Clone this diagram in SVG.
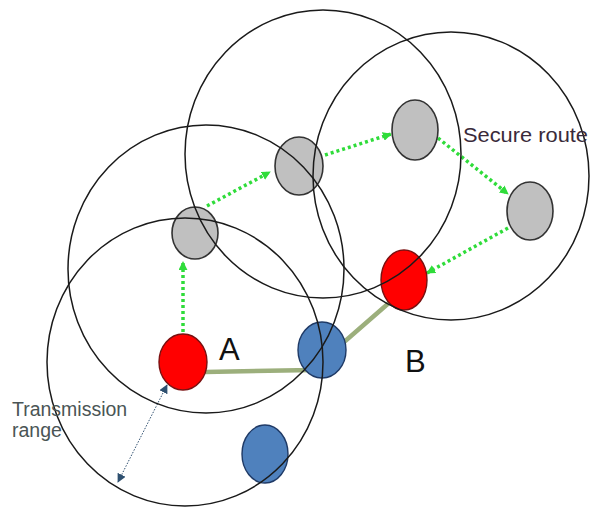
<svg xmlns="http://www.w3.org/2000/svg" width="595" height="509" viewBox="0 0 595 509">
<style>
.range{fill:none;stroke:#1a1a1a;stroke-width:1.5}
.gray{fill:#c0c0c0;stroke:#333;stroke-width:1.6}
.red{fill:#ff0000;stroke:#7a1010;stroke-width:1.4}
.blue{fill:#4f81bd;stroke:#1f3a66;stroke-width:1.4}
.route{fill:none;stroke:#2fdc3a;stroke-width:3.5;stroke-dasharray:3 3}
.lbl{font-family:"Liberation Sans",Arial,sans-serif}
</style>
<defs>
<marker id="ga" viewBox="0 0 10 10" refX="9" refY="5" markerWidth="9" markerHeight="9" markerUnits="userSpaceOnUse" orient="auto">
<path d="M0,0 L10,5 L0,10 z" fill="#2fdc3a"/>
</marker>
<marker id="ta" viewBox="0 0 10 10" refX="9" refY="5" markerWidth="9" markerHeight="9" markerUnits="userSpaceOnUse" orient="auto-start-reverse">
<path d="M0,0 L10,5 L0,10 z" fill="#2f5070"/>
</marker>
</defs>
<rect width="595" height="509" fill="#ffffff"/>
<g id="connectors">
<polyline points="205,372 312,370 390,302" fill="none" stroke="#9caf7c" stroke-width="4.5"/>
<line class="route" x1="183" y1="332" x2="183" y2="262" marker-end="url(#ga)"/>
<line class="route" x1="207" y1="206" x2="270" y2="172" marker-end="url(#ga)"/>
<line class="route" x1="325" y1="155" x2="391" y2="134" marker-end="url(#ga)"/>
<line class="route" x1="438" y1="138" x2="508" y2="194" marker-end="url(#ga)"/>
<line class="route" x1="508" y1="228" x2="427" y2="273" marker-end="url(#ga)"/>
<line x1="167" y1="385" x2="118" y2="482" stroke="#2f5070" stroke-width="1" stroke-dasharray="1.5 1.5" marker-start="url(#ta)" marker-end="url(#ta)"/>
</g>
<g id="nodeA"><ellipse class="red" cx="183" cy="362" rx="24" ry="28"/></g>
<g id="gray1"><ellipse class="gray" cx="195" cy="233" rx="23" ry="26"/></g>
<g id="gray2"><ellipse class="gray" cx="299" cy="166" rx="24" ry="29"/></g>
<g id="gray3"><ellipse class="gray" cx="415" cy="130" rx="23" ry="30"/></g>
<g id="gray4"><ellipse class="gray" cx="530" cy="211" rx="23" ry="29"/></g>
<g id="nodeB"><ellipse class="red" cx="404" cy="280" rx="23" ry="30"/></g>
<g id="blue1"><ellipse class="blue" cx="322" cy="350" rx="24" ry="28"/></g>
<g id="blue2"><ellipse class="blue" cx="265" cy="454" rx="23" ry="29"/></g>
<g id="ranges">
<ellipse class="range" cx="185" cy="362" rx="138" ry="144"/>
<ellipse class="range" cx="206" cy="269" rx="138" ry="144"/>
<ellipse class="range" cx="323" cy="154" rx="138" ry="144"/>
<ellipse class="range" cx="451" cy="176" rx="138" ry="144"/>
</g>
<text class="lbl" x="219" y="360" font-size="31" fill="#111">A</text>
<text class="lbl" x="405" y="372" font-size="31" fill="#111">B</text>
<text class="lbl" x="463" y="142" font-size="21" fill="#3a2a3a" textLength="125" lengthAdjust="spacingAndGlyphs">Secure route</text>
<text class="lbl" x="12" y="416" font-size="19.5" fill="#4a5555">Transmission</text>
<text class="lbl" x="12" y="437" font-size="19.5" fill="#4a5555">range</text>
</svg>
